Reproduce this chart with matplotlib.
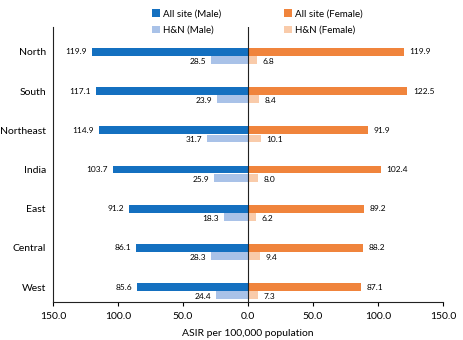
import matplotlib.pyplot as plt
import numpy as np

plt.rcParams['font.family'] = ['Lato', 'DejaVu Sans']

regions = ['North', 'South', 'Northeast', 'India', 'East', 'Central', 'West']
all_male = [119.9, 117.1, 114.9, 103.7, 91.2, 86.1, 85.6]
hn_male = [28.5, 23.9, 31.7, 25.9, 18.3, 28.3, 24.4]
all_female = [119.9, 122.5, 91.9, 102.4, 89.2, 88.2, 87.1]
hn_female = [6.8, 8.4, 10.1, 8.0, 6.2, 9.4, 7.3]
xticks = [-150, -100, -50, 0, 50, 100, 150]

c_all_m = '#1470C0'
c_hn_m = '#A9C2E8'
c_all_f = '#F0843C'
c_hn_f = '#F9CBAA'

fig = plt.figure(figsize=(4.64, 3.40), dpi=100)
ax = fig.add_axes([0.114, 0.112, 0.841, 0.809])

y = np.arange(len(regions))[::-1].astype(float)
h = 0.2
off = 0.21

b1 = ax.barh(y, -np.array(all_male), height=h, color=c_all_m, label='All site (Male)')
b2 = ax.barh(y - off, -np.array(hn_male), height=h, color=c_hn_m, label='H&N (Male)')
b3 = ax.barh(y, all_female, height=h, color=c_all_f, label='All site (Female)')
b4 = ax.barh(y - off, hn_female, height=h, color=c_hn_f, label='H&N (Female)')

fs = 6
for yi, v in zip(y, all_male):
    ax.annotate('%.1f' % v, (-v, yi), xytext=(-3.5, 0), textcoords='offset points',
                ha='right', va='center', fontsize=fs)
for yi, v in zip(y - off, hn_male):
    ax.annotate('%.1f' % v, (-v, yi), xytext=(-3.5, -1), textcoords='offset points',
                ha='right', va='center', fontsize=fs)
for yi, v in zip(y, all_female):
    ax.annotate('%.1f' % v, (v, yi), xytext=(4, 0), textcoords='offset points',
                ha='left', va='center', fontsize=fs)
for yi, v in zip(y - off, hn_female):
    ax.annotate('%.1f' % v, (v, yi), xytext=(4, -1), textcoords='offset points',
                ha='left', va='center', fontsize=fs)

ax.axvline(0, color='#222222', lw=0.8)
ax.set_xlim(-150, 150)
ax.set_ylim(-0.38, 6.64)
ax.set_xticks(xticks)
ax.set_xticklabels(['%.1f' % abs(t) for t in xticks], fontsize=7.5)
ax.set_yticks(y)
ax.set_yticklabels(regions, fontsize=7.5)
ax.tick_params(axis='y', length=0, pad=5)
ax.tick_params(axis='x', length=3, width=0.8, pad=4)
ax.set_xlabel('ASIR per 100,000 population', fontsize=7.5, labelpad=6)

for s in ['top', 'right']:
    ax.spines[s].set_visible(False)
for s in ['left', 'bottom']:
    ax.spines[s].set_color('#222222')
    ax.spines[s].set_linewidth(0.8)

fig.legend(handles=[b1, b2, b3, b4], ncol=2, loc='upper center',
           bbox_to_anchor=(0.555, 0.998), frameon=False, fontsize=7,
           handlelength=0.8, handleheight=0.8, handletextpad=0.3,
           columnspacing=6.5, labelspacing=0.75)

fig.savefig('out.png', dpi=100)
